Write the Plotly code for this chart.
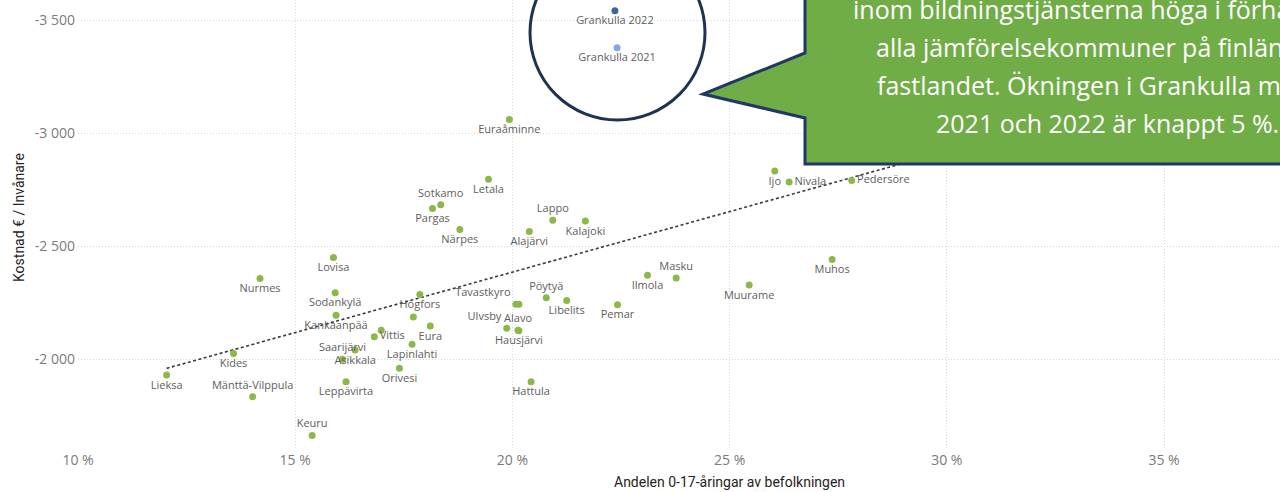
import plotly.graph_objects as go

# ---- data ----
kommuner = ["Lieksa", "Kides", "Mänttä-Vilppula", "Nurmes", "Keuru", "Lovisa", "Sodankylä",
            "Kankaanpää", "Saarijärvi", "Leppävirta", "Asikkala", "Vittis", "", "Orivesi",
            "Lapinlahti", "", "Högfors", "Eura", "Pargas", "Sotkamo", "Närpes", "Letala",
            "Ulvsby", "Euraåminne", "Tavastkyro", "", "Alavo", "Hausjärvi", "Alajärvi",
            "Hattula", "Pöytyä", "Lappo", "Libelits", "Kalajoki", "Pemar", "Ilmola", "Masku",
            "Muurame", "Ijo", "Nivala", "Muhos", "Pedersöre"]
andel_0_17 = [12.04, 13.58, 14.02, 14.19, 15.39, 15.88, 15.92,
              15.94, 16.09, 16.17, 16.38, 16.82, 16.98, 17.40,
              17.69, 17.72, 17.87, 18.11, 18.16, 18.35, 18.79, 19.45,
              19.87, 19.93, 20.08, 20.15, 20.13, 20.15, 20.39,
              20.43, 20.78, 20.93, 21.25, 21.68, 22.42, 23.11, 23.77,
              25.45, 26.04, 26.37, 27.36, 27.81]
kostnad = [-1932, -2027, -1836, -2358, -1664, -2451, -2295,
           -2196, -2001, -1902, -2042, -2101, -2130, -1961,
           -2068, -2188, -2288, -2148, -2668, -2685, -2575, -2797,
           -2138, -3062, -2244, -2244, -2130, -2127, -2566,
           -1902, -2273, -2616, -2261, -2613, -2242, -2373, -2361,
           -2330, -2834, -2785, -2442, -2792]
label_pos = ["bottom center", "bottom center", "top center", "bottom center", "top center",
             "bottom center", "bottom center", "bottom center", "top center", "bottom center",
             "bottom center", "middle right", "bottom center", "bottom center", "bottom center",
             "bottom center", "bottom center", "bottom center", "bottom center", "top center",
             "bottom center", "bottom center", "top left", "bottom center", "top left",
             "bottom center", "top center", "bottom center", "bottom center", "bottom center",
             "top center", "top center", "bottom center", "bottom center", "bottom center",
             "bottom center", "top center", "bottom center", "bottom center", "middle right",
             "bottom center", "middle right"]

grankulla_namn = ["Grankulla 2022", "Grankulla 2021"]
grankulla_andel = [22.36, 22.41]
grankulla_kostnad = [-3543, -3379]
grankulla_farg = ["#3F6699", "#7EA9E0"]

trend_x = [12.04, 37.5]
trend_y = [-1961, -3323]

x_ticks = [10, 15, 20, 25, 30, 35]
x_ticktext = ["10 %", "15 %", "20 %", "25 %", "30 %", "35 %"]
y_ticks = [-3500, -3000, -2500, -2000]
y_ticktext = ["-3 500", "-3 000", "-2 500", "-2 000"]

callout_lines = ["inom bildningstjänsterna höga i förhållande",
                 "alla jämförelsekommuner på finländska",
                 "fastlandet. Ökningen i Grankulla mellan",
                 "2021 och 2022 är knappt 5 %."]

# ---- layout helpers (pixel -> paper) ----
W, H = 1280, 492
L, R, T, B = 78, 0, 0, 42
PW, PH = W - L - R, H - T - B


def px(x):
    return (x - L) / PW


def py(y):
    return 1 - (y - T) / PH


fig = go.Figure()

fig.add_trace(go.Scatter(
    x=trend_x, y=trend_y, mode="lines",
    line=dict(color="#3A3A3A", width=1.6, dash="3px,2.5px"),
    hoverinfo="skip", showlegend=False))

fig.add_trace(go.Scatter(
    x=andel_0_17, y=kostnad, mode="markers+text",
    text=kommuner, textposition=label_pos,
    textfont=dict(family="Open Sans", size=11, color="#605E5C"),
    marker=dict(size=7, color="#8CB84B"),
    showlegend=False))

fig.add_trace(go.Scatter(
    x=grankulla_andel, y=grankulla_kostnad, mode="markers+text",
    text=grankulla_namn, textposition="bottom center",
    textfont=dict(family="Open Sans", size=11, color="#605E5C"),
    marker=dict(size=7, color=grankulla_farg),
    showlegend=False))

shapes = [
    # magnifier circle
    dict(type="circle", xref="paper", yref="paper",
         x0=px(530), x1=px(705), y0=py(120), y1=py(-55),
         line=dict(color="#1F3350", width=3), fillcolor="rgba(0,0,0,0)", layer="above"),
    # speech bubble
    dict(type="path", xref="paper", yref="paper", layer="above",
         path="M {a},{b} L {a},{c} L {d},{e} L {a},{f} L {a},{g} L {h},{g} L {h},{b} Z".format(
             a=px(805), b=py(-80), c=py(53), d=px(703), e=py(94), f=py(118), g=py(164), h=px(1420)),
         fillcolor="#70AD47", line=dict(color="#1F3864", width=3)),
]

annotations = []
line_y = [9, 47, 85, 123]
for txt, yy in zip(callout_lines, line_y):
    annotations.append(dict(
        text=txt, xref="paper", yref="paper", x=px(1107), y=py(yy),
        xanchor="center", yanchor="middle", showarrow=False,
        font=dict(family="Open Sans", size=25, color="white")))

annotations.append(dict(
    text="Andelen 0-17-åringar av befolkningen", xref="x", yref="paper",
    x=25, y=py(482), xanchor="center", yanchor="middle", showarrow=False,
    font=dict(family="Roboto", size=14, color="#252423")))
annotations.append(dict(
    text="Kostnad € / Invånare", xref="paper", yref="paper",
    x=px(19), y=py(218), xanchor="center", yanchor="middle", textangle=-90,
    showarrow=False, font=dict(family="Roboto", size=14, color="#252423")))

fig.update_layout(
    width=W, height=H,
    margin=dict(l=L, r=R, t=T, b=B),
    paper_bgcolor="white", plot_bgcolor="white",
    shapes=shapes, annotations=annotations,
    xaxis=dict(range=[10, 10 + PW / 43.44], tickvals=x_ticks, ticktext=x_ticktext,
               showgrid=True, gridcolor="#DADADA", griddash="1px,2px", gridwidth=1,
               zeroline=False, showline=False,
               tickfont=dict(family="Open Sans", size=14, color="#7A7A7A")),
    yaxis=dict(range=[-1600, -3590], tickvals=y_ticks, ticktext=y_ticktext,
               showgrid=True, gridcolor="#DADADA", griddash="1px,2px", gridwidth=1,
               zeroline=False, showline=False, ticklabelstandoff=2,
               tickfont=dict(family="Open Sans", size=14, color="#7A7A7A")),
)

fig.write_html(
    "out.html",
    config={"displayModeBar": False},
    post_script="document.body.style.margin='0';document.body.style.overflow='hidden';",
)
